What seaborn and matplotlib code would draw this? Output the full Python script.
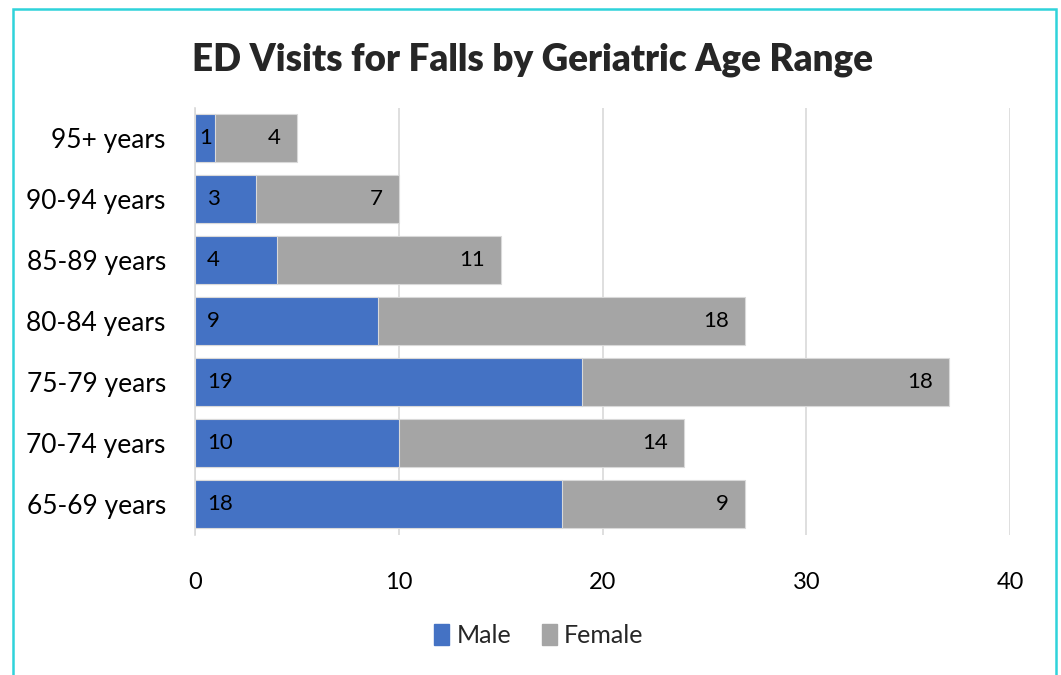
import numpy as np
import pandas as pd
import matplotlib
matplotlib.use("Agg")
import matplotlib.pyplot as plt
import seaborn as sns
from matplotlib.patches import Rectangle, Patch
from matplotlib.transforms import offset_copy

# age groups, top to bottom as in the chart
ages = ["95+ years", "90-94 years", "85-89 years", "80-84 years",
        "75-79 years", "70-74 years", "65-69 years"]
male = [1, 3, 4, 9, 19, 10, 18]
female = [4, 7, 11, 18, 18, 14, 9]

blue = "#4472C4"
gray = "#A5A5A5"

df = pd.DataFrame({"Age": ages, "Male": male, "Female": female})
df["Total"] = df["Male"] + df["Female"]

sns.set_style("white")
plt.rcParams["font.family"] = ["Lato", "DejaVu Sans"]

fig = plt.figure(figsize=(10.61, 6.75), dpi=100)
ax = fig.add_axes([0.1838, 0.2081, 0.952 - 0.1838, 0.8407 - 0.2081])

# stacked: total in gray, male drawn on top
sns.barplot(data=df, x="Total", y="Age", order=ages, color=gray, width=0.78,
            saturation=1, orient="h", ax=ax, edgecolor="#D9D9D9", linewidth=0.8)
sns.barplot(data=df, x="Male", y="Age", order=ages, color=blue, width=0.78,
            saturation=1, orient="h", ax=ax, edgecolor="#D9D9D9", linewidth=0.8)

ax.set_xlim(0, 40)
ax.set_xticks([0, 10, 20, 30, 40])
ax.set_xlabel("")
ax.set_ylabel("")
ax.grid(axis="x", color="#D9D9D9", linewidth=1.2)
ax.set_axisbelow(True)
for s in ["top", "right", "bottom"]:
    ax.spines[s].set_visible(False)
ax.spines["left"].set_color("#D9D9D9")
ax.spines["left"].set_linewidth(1.2)
ax.tick_params(axis="y", length=0, labelsize=19, pad=21, colors="black")
ax.tick_params(axis="x", length=0, labelsize=17, pad=27, colors="black")

# data labels
left_off = offset_copy(ax.transData, fig=fig, x=12, y=0, units="dots")
right_off = offset_copy(ax.transData, fig=fig, x=-16, y=0, units="dots")
for i, (m, f) in enumerate(zip(male, female)):
    if m < 2:
        ax.text(m / 2, i, str(m), ha="center", va="center", fontsize=16, color="black")
    else:
        ax.text(0, i, str(m), ha="left", va="center", fontsize=16, color="black",
                transform=left_off)
    ax.text(m + f, i, str(f), ha="right", va="center", fontsize=16, color="black",
            transform=right_off)

fig.suptitle("ED Visits for Falls by Geriatric Age Range", x=0.502, y=0.937,
             fontsize=26.5, fontweight="heavy")

handles = [Patch(color=blue, label="Male"), Patch(color=gray, label="Female")]
fig.legend(handles=handles, loc="center", bbox_to_anchor=(0.508, 0.058), ncol=2,
           frameon=False, fontsize=18, handlelength=0.6, handleheight=0.9,
           handletextpad=0.3, columnspacing=1.2)

# cyan chart border
fig.patches.append(Rectangle((13 / 1061, -0.05), (1056 - 13) / 1061, 1.05 - 9 / 675,
                             transform=fig.transFigure, fill=False,
                             edgecolor="#2FD3DA", linewidth=1.8))

fig.savefig("out.png", dpi=100)
